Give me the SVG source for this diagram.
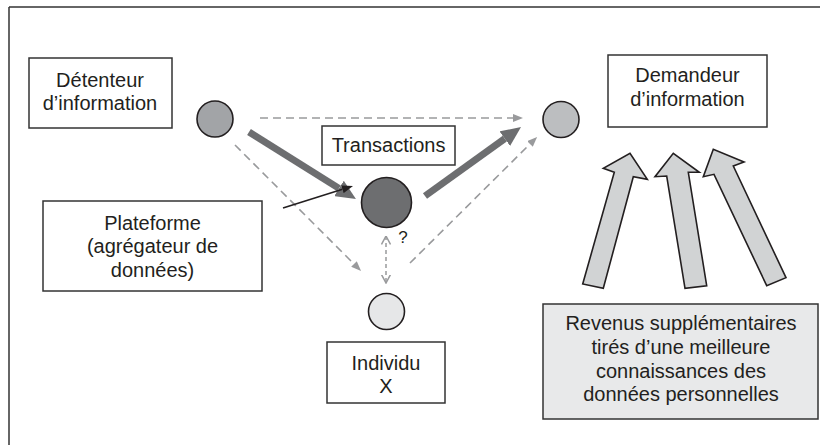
<svg xmlns="http://www.w3.org/2000/svg" width="820" height="445" viewBox="0 0 820 445">
<style>
  text { font-family: "Liberation Sans", Arial, sans-serif; font-size: 20px; fill: #231f20; text-anchor: middle; }
  .box { fill: #ffffff; stroke: #333333; stroke-width: 1.5; }
  .circ { stroke: #231f20; stroke-width: 1.6; }
  .thick { stroke: #6d6e70; stroke-width: 7; fill: none; }
  .dash { stroke: #999a9c; stroke-width: 1.6; stroke-dasharray: 8 5; fill: none; }
  .block { fill: #d1d3d4; stroke: #231f20; stroke-width: 1.6; stroke-linejoin: miter; }
</style>
<defs>
  <marker id="thickHead" viewBox="0 0 20 18" refX="0" refY="9" markerWidth="20" markerHeight="18" markerUnits="userSpaceOnUse" orient="auto">
    <path d="M0,0 L20,9 L0,18 z" fill="#6d6e70"/>
  </marker>
  <marker id="dashHead" viewBox="0 0 10 8" refX="0" refY="4" markerWidth="10" markerHeight="8" markerUnits="userSpaceOnUse" orient="auto">
    <path d="M0,0 L10,4 L0,8 z" fill="#999a9c"/>
  </marker>
  <marker id="openHead" viewBox="0 0 9 10" refX="8.5" refY="5" markerWidth="9" markerHeight="10" markerUnits="userSpaceOnUse" orient="auto-start-reverse">
    <path d="M0,0.5 L8.5,5 L0,9.5" fill="none" stroke="#999a9c" stroke-width="1.5"/>
  </marker>
  <marker id="blackHead" viewBox="0 0 11 8" refX="0" refY="4" markerWidth="11" markerHeight="8" markerUnits="userSpaceOnUse" orient="auto">
    <path d="M0,0 L11,4 L0,8 z" fill="#231f20"/>
  </marker>
</defs>

<g id="frame" fill="none" stroke="#333333" stroke-width="1.5">
  <line x1="9" y1="7" x2="820" y2="7"/>
  <line x1="9" y1="7" x2="9" y2="445"/>
</g>

<g id="connectors">
  <line class="dash" x1="260" y1="118" x2="513" y2="118" marker-end="url(#dashHead)"/>
  <line class="dash" x1="235" y1="145" x2="354" y2="264" marker-end="url(#dashHead)"/>
  <line class="dash" x1="410" y1="263" x2="530" y2="144" marker-end="url(#dashHead)"/>
  <line stroke="#999a9c" stroke-width="1.5" stroke-dasharray="4 3" x1="386" y1="236" x2="386" y2="283" marker-start="url(#openHead)" marker-end="url(#openHead)"/>
  <line class="thick" x1="249" y1="132" x2="339" y2="188.4" marker-end="url(#thickHead)"/>
  <line class="thick" x1="425" y1="196" x2="504.8" y2="138.7" marker-end="url(#thickHead)"/>
  <line stroke="#231f20" stroke-width="1.6" x1="283" y1="208" x2="342.5" y2="189.3" marker-end="url(#blackHead)"/>
  <polygon class="block" points="582.7,284 614.3,172.3 603.3,168.3 630,153.3 647.3,179.3 633.3,176.7 603.3,288.3"/>
  <polygon class="block" points="685,288.3 666.7,176 655,176.7 673.3,153.3 699.3,172.3 688.3,172.3 706.7,285.7"/>
  <polygon class="block" points="766.7,285.7 714,174.3 703.3,176.7 713.3,149.3 744,162 733.3,166 786,277.7"/>
</g>

<g id="detenteur">
  <rect class="box" x="29" y="58" width="143" height="70"/>
  <text x="100" y="87">Détenteur</text>
  <text x="100" y="110">d’information</text>
  <circle class="circ" cx="215" cy="119" r="18" fill="#a2a4a7"/>
</g>

<g id="transactions">
  <rect class="box" x="322" y="126" width="133" height="39"/>
  <text x="388.5" y="152">Transactions</text>
</g>

<g id="plateforme-circle">
  <circle class="circ" cx="386.5" cy="202.5" r="25" fill="#6d6e70"/>
  <text x="403" y="243" style="font-size:17px">?</text>
</g>

<g id="demandeur">
  <rect class="box" x="608" y="55" width="159" height="72"/>
  <text x="687.5" y="82">Demandeur</text>
  <text x="687.5" y="106">d’information</text>
  <circle class="circ" cx="561" cy="119.5" r="18" fill="#bcbec0"/>
</g>

<g id="plateforme">
  <rect class="box" x="43" y="201" width="219" height="90"/>
  <text x="152.5" y="230">Plateforme</text>
  <text x="152.5" y="253">(agrégateur de</text>
  <text x="152.5" y="277">données)</text>
</g>

<g id="individu">
  <circle class="circ" cx="386.5" cy="311.5" r="18" fill="#e6e7e8"/>
  <rect class="box" x="327" y="342" width="118" height="61"/>
  <text x="386" y="370">Individu</text>
  <text x="386" y="393">X</text>
</g>

<g id="revenus">
  <rect class="box" x="543" y="304" width="275" height="115" style="fill:#e8e9ea"/>
  <text x="681" y="330">Revenus supplémentaires</text>
  <text x="681" y="354">tirés d’une meilleure</text>
  <text x="681" y="378">connaissances des</text>
  <text x="681" y="401">données personnelles</text>
</g>
</svg>
